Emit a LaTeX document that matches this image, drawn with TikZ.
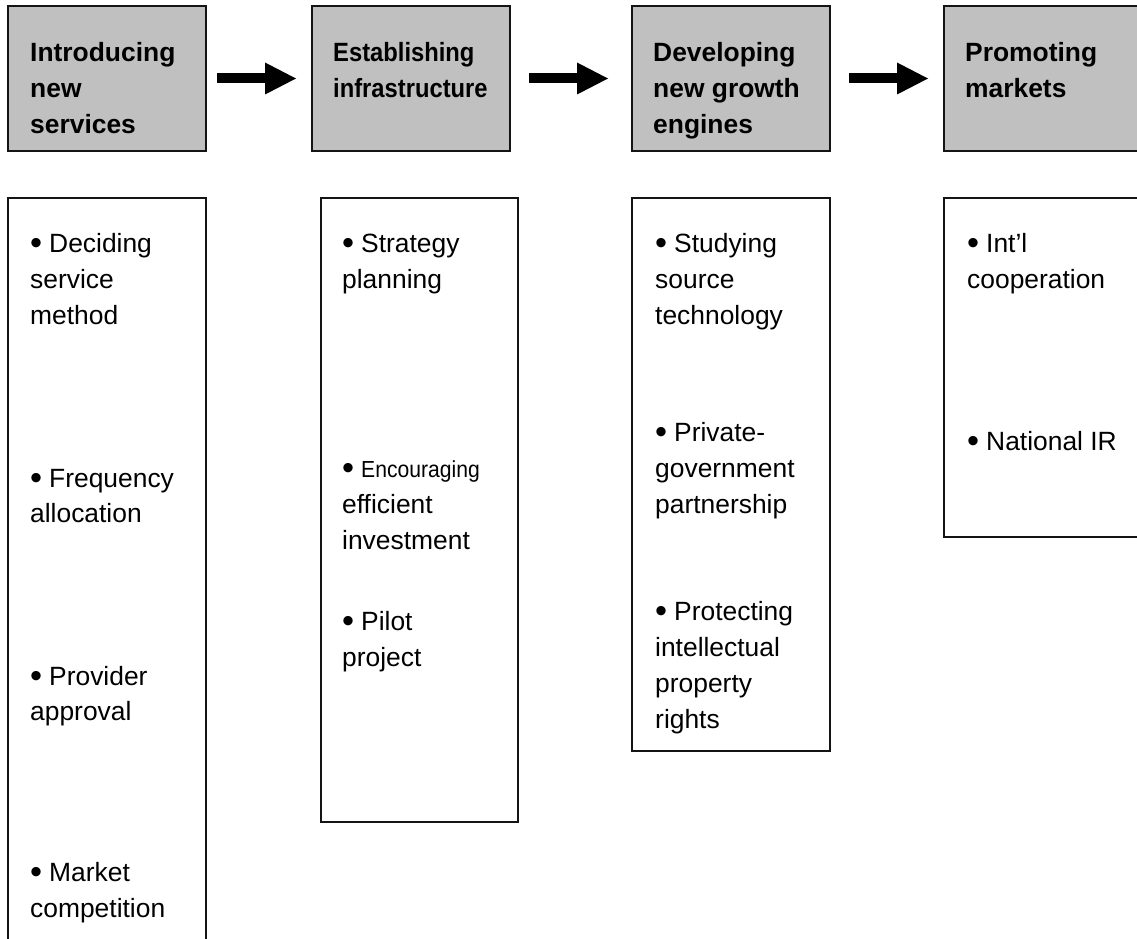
\documentclass[tikz,border=0pt]{standalone}
\usepackage{fontspec}
\setmainfont{Liberation Sans}
\usetikzlibrary{arrows.meta}
\definecolor{hdrgray}{HTML}{C0C0C0}
\definecolor{edge}{HTML}{141414}
% a round list bullet, a little larger than the font's own
\newcommand\bul{\makebox[19pt][l]{\raisebox{-2.7pt}{\scalebox{1.3}{•}}}}
\begin{document}
\begin{tikzpicture}[x=1pt,y=-1pt,
  hbox/.style={draw=edge, line width=1.8pt, fill=hdrgray, minimum width=198pt,
    minimum height=145pt, anchor=north west, inner sep=0pt, outer sep=0pt},
  lbox/.style={draw=edge, line width=1.8pt, fill=white, anchor=north west,
    inner sep=0pt, outer sep=0pt},
  htext/.style={anchor=base west, inner sep=0pt,
    font=\fontsize{26.4}{36}\selectfont\bfseries},
  btext/.style={anchor=base west, inner sep=0pt,
    font=\fontsize{26.4}{36}\selectfont},
  flow/.style={line width=10pt,
    -{Triangle[length=31pt,width=32pt,line width=0pt]}}
]
\useasboundingbox (0,0) rectangle (1137,939);
\clip (0,0) rectangle (1137,939);

% stage headers
\node[hbox] (h1) at (8,6) {};
\node[hbox] (h2) at (312,6) {};
\node[hbox] (h3) at (632,6) {};
\node[hbox] (h4) at (944,6) {};

% task lists
\node[lbox, minimum width=198pt, minimum height=780pt] (b1) at (8,198) {};
\node[lbox, minimum width=197pt, minimum height=624pt] (b2) at (321,198) {};
\node[lbox, minimum width=198pt, minimum height=553pt] (b3) at (632,198) {};
\node[lbox, minimum width=198pt, minimum height=339pt] (b4) at (944,198) {};

% flow between stages
\draw[flow] ([xshift=11pt]h1.east) -- ([xshift=-16pt]h2.west);
\draw[flow] ([xshift=19pt]h2.east) -- ([xshift=-24pt]h3.west);
\draw[flow] ([xshift=19pt]h3.east) -- ([xshift=-16pt]h4.west);

% header titles
\foreach \y/\t [count=\i] in {62/Introducing, 97.5/new, 133/services}
  \node[htext] (t1-\i) at (30,\y) {\t};
\foreach \y/\t [count=\i] in {62/Establishing, 97.5/infrastructure}
  \node[htext] (t2-\i) at (333,\y) {\scalebox{0.9}[1]{\t}};
\foreach \y/\t [count=\i] in {62/Developing, 97.5/new growth, 133/engines}
  \node[htext] (t3-\i) at (653,\y) {\t};
\foreach \y/\t [count=\i] in {62/Promoting, 97.5/markets}
  \node[htext] (t4-\i) at (965,\y) {\t};

% list entries
\foreach \y/\t [count=\i] in {252/{\bul Deciding}, 288/service, 324/method,
    487/{\bul Frequency}, 522/allocation, 685/{\bul Provider}, 720/approval,
    881/{\bul Market}, 917/competition}
  \node[btext] (c1-\i) at (30,\y) {\t};
\foreach \y/\t [count=\i] in {252/{\bul Strategy}, 288/planning,
    477/{\bul\scalebox{0.8}[0.88]{Encouraging}}, 513/efficient, 549/investment,
    630/{\bul Pilot}, 666/project}
  \node[btext] (c2-\i) at (342,\y) {\t};
\foreach \y/\t [count=\i] in {252/{\bul Studying}, 288/source, 324/technology,
    441/{\bul Private-}, 477/government, 513/partnership,
    620/{\bul Protecting}, 656/intellectual, 692/property, 728/rights}
  \node[btext] (c3-\i) at (655,\y) {\t};
\foreach \y/\t [count=\i] in {252/{\bul Int’l}, 288/cooperation, 450/{\bul National IR}}
  \node[btext] (c4-\i) at (967,\y) {\t};
\end{tikzpicture}
\end{document}
